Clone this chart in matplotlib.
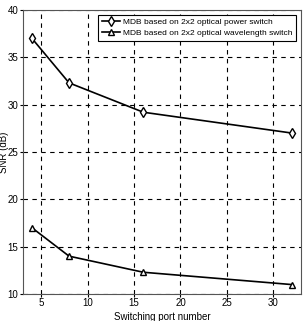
import matplotlib
matplotlib.use("Agg")
import matplotlib.pyplot as plt

plt.rcParams['font.family'] = ['Liberation Sans', 'DejaVu Sans']

# data
ports = [4, 8, 16, 32]
snr_power = [37.0, 32.3, 29.2, 27.0]
snr_wavelength = [17.0, 14.0, 12.3, 11.0]
labels = ["MDB based on 2x2 optical power switch",
          "MDB based on 2x2 optical wavelength switch"]

fig = plt.figure(figsize=(3.06, 3.21), dpi=100)
ax = fig.add_axes([0.074, 0.084, 0.91, 0.885])

ax.plot(ports, snr_power, color="black", lw=1.2, marker="d", ms=5,
        mfc="white", mec="black", mew=1.0, label=labels[0])
ax.plot(ports, snr_wavelength, color="black", lw=1.2, marker="^", ms=5,
        mfc="white", mec="black", mew=1.0, label=labels[1])

ax.set_xlim(3, 33)
ax.set_ylim(10, 40)
ax.set_xticks([5, 10, 15, 20, 25, 30])
ax.set_yticks([10, 15, 20, 25, 30, 35, 40])
ax.grid(True, color="black", linestyle=(0, (4, 4)), lw=0.8)
ax.tick_params(direction="out", labelsize=7, length=2, pad=1)
for s in ax.spines.values():
    s.set_color("#555555")

ax.set_xlabel("Switching port number", fontsize=7, labelpad=3)
ax.set_ylabel("SNR (dB)", fontsize=7)
ax.yaxis.set_label_coords(-0.05, 0.5)

leg = ax.legend(loc="upper right", fontsize=6, frameon=True, fancybox=False,
                edgecolor="black", framealpha=1, handlelength=2.2,
                borderpad=0.4, labelspacing=0.4, handletextpad=0.4,
                borderaxespad=0.6)
leg.get_frame().set_linewidth(0.8)

fig.savefig("out.png", dpi=100)
